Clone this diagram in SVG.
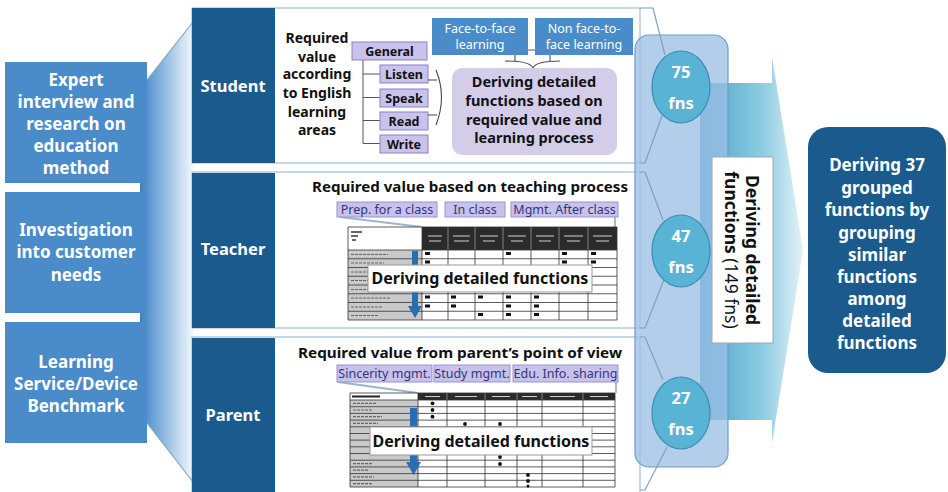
<svg xmlns="http://www.w3.org/2000/svg" width="948" height="492" viewBox="0 0 948 492">
<defs>
<linearGradient id="fun" x1="140" y1="0" x2="193" y2="0" gradientUnits="userSpaceOnUse">
<stop offset="0" stop-color="#3f7fbd"/><stop offset="0.25" stop-color="#6aa3d6"/><stop offset="1" stop-color="#f2f7fc"/>
</linearGradient>
<linearGradient id="arr" x1="700" y1="0" x2="803" y2="0" gradientUnits="userSpaceOnUse">
<stop offset="0" stop-color="#4aa3c9"/><stop offset="0.6" stop-color="#8ccbe2"/><stop offset="1" stop-color="#e2f2f8"/>
</linearGradient>
<style>
.lb{fill:#4a8cca}
.dk{fill:#1b5a8c}
.t{font-family:"Noto Sans","Open Sans","DejaVu Sans",sans-serif}
.wb{font-family:"Noto Sans","Open Sans","DejaVu Sans",sans-serif;font-weight:bold;fill:#fff;text-anchor:middle}
.bb{font-family:"Noto Sans","Open Sans","DejaVu Sans",sans-serif;font-weight:bold;fill:#111;text-anchor:middle}
.pb{fill:#fff;stroke:#8fb0cc;stroke-width:1}
.co{fill:none;stroke:#7f9fba;stroke-width:1.2}
.lv{fill:#c9c3ec;stroke:#8a82c4;stroke-width:1}
.lvs{fill:#c7c2ea;stroke:#9a94d0;stroke-width:1}
.st{font-family:"Noto Sans","Open Sans","DejaVu Sans",sans-serif;font-size:12.5px;fill:#34347a;text-anchor:middle}
.fb{fill:#4a8cca}
.cir{fill:#58b3d4;stroke:#3a8cb8;stroke-width:1.2}
.grid{fill:none;stroke:#333;stroke-width:0.8}
.fnl{fill:none;stroke:#9db4ca;stroke-width:1.8}
.ba{fill:#2a6db0}
.lbl{fill:none;stroke:#666;stroke-width:1.2;stroke-dasharray:3 1}
.mk{fill:#111}
</style>
</defs>

<!-- funnel -->
<polygon points="140,80 147,80 193,22 193,482 147,423 140,423" fill="url(#fun)"/>
<path d="M147,80 L193,22 M147,423 L193,482" stroke="#8aa3bb" stroke-width="1.2" fill="none"/>

<!-- left boxes -->
<g id="src-expert">
<rect class="lb" x="5" y="62" width="142" height="121"/>
<text class="wb" font-size="17"><tspan x="76" y="86">Expert</tspan><tspan x="76" y="108">interview and</tspan><tspan x="76" y="130">research on</tspan><tspan x="76" y="152">education</tspan><tspan x="76" y="174">method</tspan></text>
</g>
<g id="src-customer">
<rect class="lb" x="5" y="192" width="142" height="121"/>
<text class="wb" font-size="17"><tspan x="76" y="236">Investigation</tspan><tspan x="76" y="258">into customer</tspan><tspan x="76" y="281">needs</tspan></text>
</g>
<g id="src-benchmark">
<rect class="lb" x="5" y="322" width="142" height="121"/>
<text class="wb" font-size="17"><tspan x="76" y="368">Learning</tspan><tspan x="76" y="390">Service/Device</tspan><tspan x="76" y="412">Benchmark</tspan></text>
</g>

<!-- big arrow -->
<g id="big-arrow">
<path d="M700,83 H772 V57 L803,250 L772,443 V420 H700 Z" fill="url(#arr)"/>
</g>

<!-- panels base -->
<rect class="pb" x="192" y="8" width="448" height="155"/>
<rect class="pb" x="192" y="172" width="448" height="156"/>
<rect class="pb" x="192" y="337" width="448" height="160"/>

<!-- collector rect -->
<g id="collector">
<rect x="635" y="35" width="93" height="432" rx="14" fill="#9cc0e4" fill-opacity="0.78" stroke="#6f9cc8" stroke-width="1.2"/>
</g>

<!-- connectors / callouts -->
<g id="connectors">
<path class="co" d="M640,8 H653 L665,55"/>
<path class="co" d="M663,113 L645,163 H640"/>
<path class="co" d="M640,172 H645 L663,220"/>
<path class="co" d="M665,277 L645,328 H640"/>
<path class="co" d="M640,337 H645 L663,380"/>
<path class="co" d="M667,447 L645,490 H640"/>
</g>

<!-- circles -->
<g id="count-student">
<ellipse class="cir" cx="681" cy="87" rx="29" ry="36"/>
<text class="wb" font-size="16.5"><tspan x="681" y="78">75</tspan><tspan x="681" y="109">fns</tspan></text>
</g>
<g id="count-teacher">
<ellipse class="cir" cx="681" cy="251" rx="29" ry="36"/>
<text class="wb" font-size="16.5"><tspan x="681" y="242">47</tspan><tspan x="681" y="273">fns</tspan></text>
</g>
<g id="count-parent">
<ellipse class="cir" cx="681" cy="413" rx="29" ry="36"/>
<text class="wb" font-size="16.5"><tspan x="681" y="404">27</tspan><tspan x="681" y="435">fns</tspan></text>
</g>

<!-- vertical box -->
<g id="detailed-total">
<rect x="712" y="157" width="61" height="186" fill="#fff" stroke="#9aa9b8" stroke-width="1"/>
<text class="t" font-size="17.5" fill="#111" transform="translate(746,250) rotate(90)" text-anchor="middle" font-weight="bold">Deriving detailed</text>
<text class="t" font-size="17.5" fill="#111" transform="translate(725,250) rotate(90)" text-anchor="middle"><tspan font-weight="bold">functions</tspan> (149 fns)</text>
</g>

<!-- result box -->
<g id="result">
<rect class="dk" x="808" y="127" width="138" height="246" rx="20"/>
<text class="wb" font-size="17"><tspan x="877" y="171">Deriving 37</tspan><tspan x="877" y="193.5">grouped</tspan><tspan x="877" y="216">functions by</tspan><tspan x="877" y="238.5">grouping</tspan><tspan x="877" y="261">similar</tspan><tspan x="877" y="283">functions</tspan><tspan x="877" y="305">among</tspan><tspan x="877" y="327">detailed</tspan><tspan x="877" y="349">functions</tspan></text>
</g>

<!-- Student panel -->
<g id="panel-student">
<rect class="dk" x="192" y="8" width="83" height="155"/>
<text class="wb" font-size="16.5" x="233" y="92">Student</text>
<text class="bb" font-size="14"><tspan x="317" y="43">Required</tspan><tspan x="317" y="61.5">value</tspan><tspan x="317" y="79">according</tspan><tspan x="317" y="98">to English</tspan><tspan x="317" y="116.5">learning</tspan><tspan x="317" y="135">areas</tspan></text>
<path d="M363,60 V143.5 M363,74 H380 M363,97.5 H380 M363,120.5 H380 M363,143.5 H380" stroke="#555" stroke-width="1" fill="none"/>
<rect class="lv" x="352" y="42" width="75" height="18"/>
<text class="bb" font-size="12.5" fill="#222" x="389.5" y="55.5">General</text>
<rect class="lv" x="380" y="65" width="48" height="18"/>
<text class="bb" font-size="12.5" x="404" y="78.5">Listen</text>
<rect class="lv" x="380" y="89" width="48" height="18"/>
<text class="bb" font-size="12.5" x="404" y="102.5">Speak</text>
<rect class="lv" x="380" y="112" width="48" height="18"/>
<text class="bb" font-size="12.5" x="404" y="125.5">Read</text>
<rect class="lv" x="380" y="135" width="48" height="18"/>
<text class="bb" font-size="12.5" x="404" y="148.5">Write</text>
<path d="M428,80 H437 M428,115 H437 M436,70 Q447,97 436,125" stroke="#444" stroke-width="1.1" fill="none"/>
<rect class="fb" x="432" y="18" width="96" height="37"/>
<text class="t" font-size="12.5" fill="#fff" text-anchor="middle"><tspan x="480" y="33">Face-to-face</tspan><tspan x="480" y="49">learning</tspan></text>
<rect class="fb" x="535" y="18" width="98" height="37"/>
<text class="t" font-size="12.5" fill="#fff" text-anchor="middle"><tspan x="584" y="33">Non face-to-</tspan><tspan x="584" y="49">face learning</tspan></text>
<path d="M528,50 H535 M515,55 V61 M550,55 V61 M505,61 Q530,61 533,68 Q536,61 560,61" stroke="#555" stroke-width="1.1" fill="none"/>
<rect x="452" y="68" width="165" height="87" rx="10" fill="#d3cdea"/>
<text class="bb" font-size="14.5"><tspan x="534" y="87">Deriving detailed</tspan><tspan x="534" y="106">functions based on</tspan><tspan x="534" y="124.5">required value and</tspan><tspan x="534" y="143">learning process</tspan></text>
</g>

<!-- Teacher panel -->
<g id="panel-teacher">
<rect class="dk" x="192" y="173" width="83" height="155"/>
<text class="wb" font-size="16.5" x="233" y="255">Teacher</text>
<text class="bb" font-size="15" x="470" y="192" textLength="316" lengthAdjust="spacingAndGlyphs">Required value based on teaching process</text>
<path class="fnl" d="M340,217 L422,227 M615,217 V227"/>
<rect class="lvs" x="337" y="202" width="100" height="15"/>
<text class="st" x="387" y="214">Prep. for a class</text>
<rect class="lvs" x="445" y="202" width="60" height="15"/>
<text class="st" x="475" y="214">In class</text>
<rect class="lvs" x="511" y="202" width="107" height="15"/>
<text class="st" x="564.5" y="214">Mgmt. After class</text>
<!-- table -->
<rect x="348" y="227" width="269" height="93" fill="#fff"/>
<rect x="348" y="250" width="74" height="70" fill="#c9c9c9"/>
<rect x="422" y="227" width="195" height="23" fill="#2b2b2b"/>
<path d="M448,227V250 M475,227V250 M503,227V250 M531,227V250 M559,227V250 M588,227V250" stroke="#999" stroke-width="0.8"/>
<path d="M428,236H442 M429,241H441 M453,236H470 M454,241H469 M480,236H498 M483,241H495 M508,236H526 M511,241H523 M536,236H554 M539,241H551 M564,236H583 M567,241H580 M593,236H612 M596,241H609" stroke="#cfcfcf" stroke-width="1.2"/>
<path d="M351,232 H362 M351,236 H358 M352,240 H356" stroke="#333" stroke-width="1.5"/>
<path class="grid" d="M348,227H617V320H348Z M348,250H617 M348,258.75H617 M348,267.5H617 M348,276.25H617 M348,285H617 M348,293.75H617 M348,302.5H617 M348,311.25H617 M422,227V320 M448,250V320 M475,250V320 M503,250V320 M531,250V320 M559,250V320 M588,250V320"/>
<path class="lbl" d="M351,254.5H388 M351,263H384 M351,272H380 M351,280.5H386 M351,289.5H384 M351,298H390 M351,307H382 M351,315.5H378"/>
<g class="mk">
<rect x="425" y="252" width="5" height="3"/><rect x="506" y="252" width="5" height="3"/><rect x="562" y="252" width="5" height="3"/><rect x="591" y="252" width="5" height="3"/>
<rect x="425" y="260.5" width="5" height="3"/><rect x="562" y="260.5" width="5" height="3"/><rect x="591" y="260.5" width="5" height="3"/>
<rect x="425" y="295.5" width="5" height="3"/><rect x="451" y="295.5" width="5" height="3"/><rect x="478" y="295.5" width="5" height="3"/><rect x="506" y="295.5" width="5" height="3"/><rect x="534" y="295.5" width="5" height="3"/>
<rect x="425" y="304.5" width="5" height="3"/><rect x="451" y="304.5" width="5" height="3"/><rect x="506" y="304.5" width="5" height="3"/><rect x="534" y="304.5" width="5" height="3"/>
<rect x="478" y="313" width="5" height="3"/><rect x="506" y="313" width="5" height="3"/><rect x="534" y="313" width="5" height="3"/>
</g>
<path class="ba" d="M412,251 H418 V306 H422 L415,318 L408,306 H412 Z"/>
<rect x="368" y="265" width="224" height="27" fill="#fff" stroke="#999" stroke-width="1"/>
<text class="bb" font-size="16" x="480" y="284">Deriving detailed functions</text>
</g>

<!-- Parent panel -->
<g id="panel-parent">
<rect class="dk" x="192" y="338" width="83" height="154"/>
<text class="wb" font-size="16.5" x="233" y="421">Parent</text>
<text class="bb" font-size="15" x="460" y="358" textLength="324" lengthAdjust="spacingAndGlyphs">Required value from parent’s point of view</text>
<path class="fnl" d="M338,382 L418,393 M616,382 V393"/>
<rect class="lvs" x="337" y="365" width="95" height="17"/>
<text class="st" x="384.5" y="378">Sincerity mgmt.</text>
<rect class="lvs" x="434" y="365" width="76" height="17"/>
<text class="st" x="472" y="378">Study mgmt.</text>
<rect class="lvs" x="513" y="365" width="105" height="17"/>
<text class="st" x="565.5" y="378">Edu. Info. sharing</text>
<!-- table -->
<rect x="350" y="393" width="265" height="94" fill="#fff"/>
<rect x="350" y="400" width="68" height="87" fill="#c9c9c9"/>
<rect x="418" y="393" width="197" height="7" fill="#2b2b2b"/>
<path d="M447,393V400 M485,393V400 M517,393V400 M542,393V400 M583,393V400" stroke="#999" stroke-width="0.8"/>
<path d="M425,396.5H440 M455,396.5H477 M492,396.5H510 M522,396.5H537 M550,396.5H575 M590,396.5H608" stroke="#cfcfcf" stroke-width="1.2"/>
<path d="M352,396.5H380" stroke="#222" stroke-width="2"/>
<path class="grid" d="M350,393H615V487H350Z M350,400H615 M350,406.7H615 M350,413.4H615 M350,420.1H615 M350,426.8H615 M350,433.5H615 M350,440.1H615 M350,446.8H615 M350,453.5H615 M350,460.2H615 M350,466.9H615 M350,473.6H615 M350,480.3H615 M418,393V487 M447,400V487 M485,400V487 M517,400V487 M542,400V487 M583,400V487"/>
<path class="lbl" d="M353,403.3H376 M353,410H372 M353,416.7H382 M353,423.4H378 M353,463.6H372 M353,470.2H368 M353,476.9H374 M353,483.6H372"/>
<g class="mk">
<circle cx="432.5" cy="403.3" r="1.9"/><circle cx="432.5" cy="410" r="1.9"/><circle cx="432.5" cy="416.7" r="1.9"/>
<circle cx="465" cy="424" r="1.9"/><circle cx="500" cy="424" r="1.9"/>
<circle cx="500" cy="457" r="1.9"/><circle cx="500" cy="464" r="1.9"/>
<circle cx="528" cy="475" r="1.9"/><circle cx="528" cy="481" r="1.9"/><circle cx="528" cy="486" r="1.5"/>
</g>
<path class="ba" d="M410,408 H417 V462 H421 L413.5,475 L406,462 H410 Z"/>
<rect x="370" y="427" width="222" height="28" fill="#fff" stroke="#999" stroke-width="1"/>
<text class="bb" font-size="16" x="481" y="447">Deriving detailed functions</text>
</g>
</svg>
